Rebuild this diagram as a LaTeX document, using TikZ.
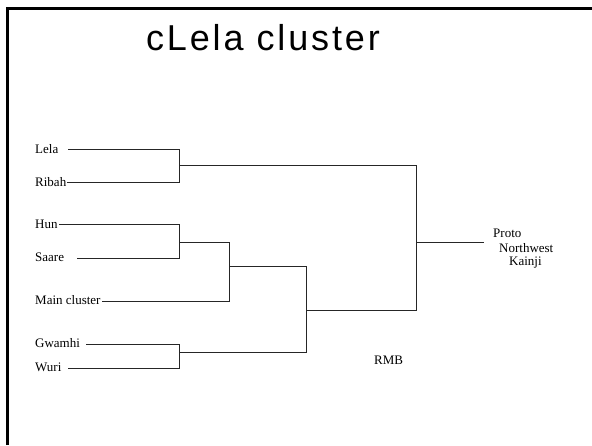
\documentclass[tikz,border=0pt]{standalone}
\usepackage{fontspec}
\setmainfont{Liberation Serif}
\newfontfamily\titlefont[LetterSpace=8]{Liberation Sans}
\begin{document}
\begin{tikzpicture}[x=1pt,y=-1pt,
  lbl/.style={font=\fontsize{13}{15}\selectfont, inner sep=0pt, anchor=base west},
  branch/.style={line width=0.9pt, black!85},
  frame/.style={line width=3pt, black}]
\useasboundingbox (0,0) rectangle (592,445);
\fill[white] (0,0) rectangle (592,445);

% slide frame (top and left edges)
\coordinate (fbl) at (7.5,445);
\coordinate (ftl) at (7.5,8.5);
\coordinate (ftr) at (592,8.5);
\draw[frame] (fbl) -- (ftl) -- (ftr);

% title
\node[font=\titlefont\fontsize{36}{40}\selectfont, inner sep=0pt, anchor=base] (title) at (263,50) {cLela cluster};

% leaf labels
\node[lbl] (lela)   at (35,153)   {Lela};
\node[lbl] (ribah)  at (35,186)   {Ribah};
\node[lbl] (hun)    at (35,228)   {Hun};
\node[lbl] (saare)  at (35,261.5) {Saare};
\node[lbl] (main)   at (35,304.5) {Main cluster};
\node[lbl] (gwamhi) at (35,347.5) {Gwamhi};
\node[lbl] (wuri)   at (35,371.5) {Wuri};

% start points of the leaf branches
\coordinate (lelaS)   at (68,149);
\coordinate (ribahS)  at (67,182);
\coordinate (hunS)    at (59,224.5);
\coordinate (saareS)  at (77,258);
\coordinate (mainS)   at (102,301);
\coordinate (gwamhiS) at (86,344);
\coordinate (wuriS)   at (68,368);

% junctions
\coordinate (j1)   at (179,165);
\coordinate (j2)   at (179,242);
\coordinate (j3)   at (229,266);
\coordinate (j4)   at (179,352);
\coordinate (j5)   at (306,310);
\coordinate (root) at (416,242);
\coordinate (rootE) at (484,242);

% tree
\draw[branch] (lelaS) -| (j1);
\draw[branch] (ribahS) -| (j1);
\draw[branch] (hunS) -| (j2);
\draw[branch] (saareS) -| (j2);
\draw[branch] (j2) -| (j3);
\draw[branch] (mainS) -| (j3);
\draw[branch] (gwamhiS) -| (j4);
\draw[branch] (wuriS) -| (j4);
\draw[branch] (j3) -| (j5);
\draw[branch] (j4) -| (j5);
\draw[branch] (j1) -| (root);
\draw[branch] (j5) -| (root);
\draw[branch] (root) -- (rootE);

% proto-language label
\node[lbl] (proto) at (493,237)   {Proto};
\node[lbl] (nw)    at (499,252)   {Northwest};
\node[lbl] (kainji) at (509,265)  {Kainji};

\node[lbl] (rmb) at (374,364.5) {RMB};
\end{tikzpicture}
\end{document}
